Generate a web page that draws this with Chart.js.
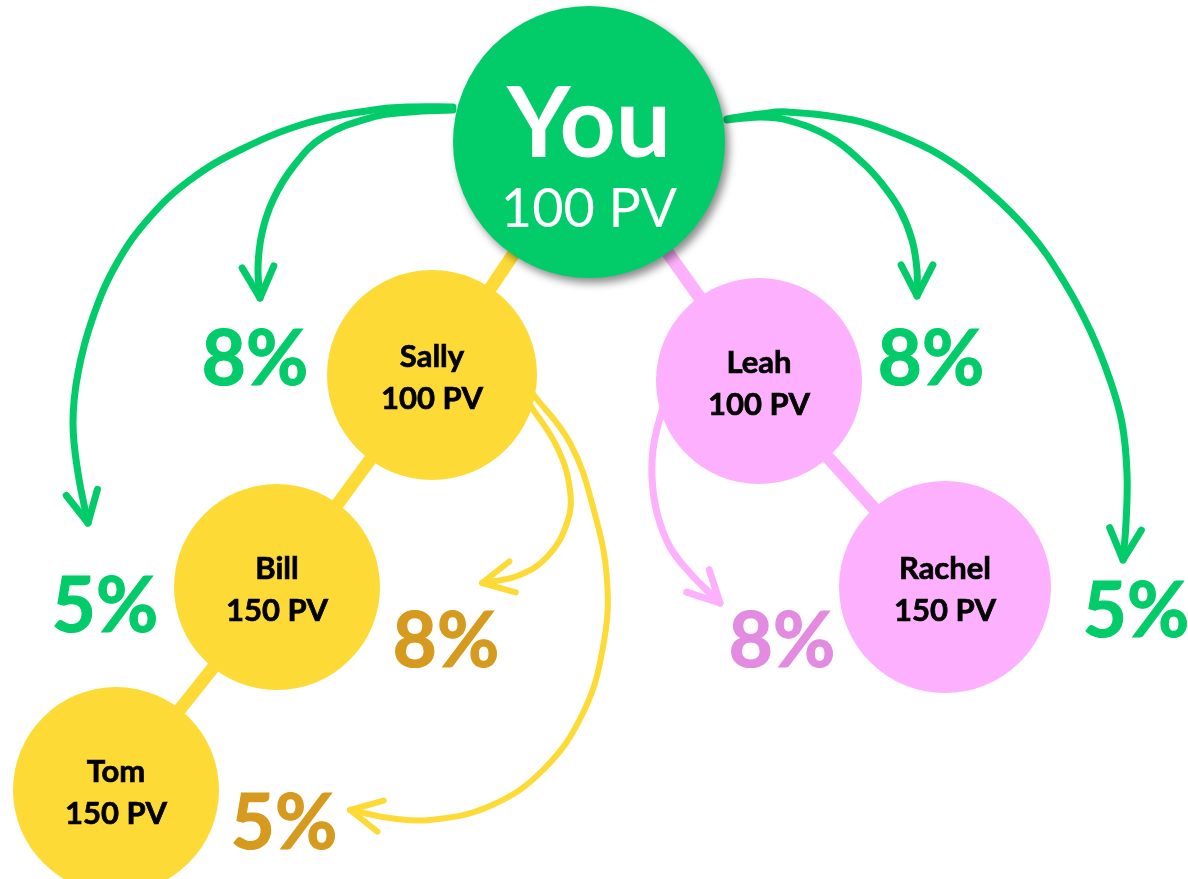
<!DOCTYPE html>
<html><head><meta charset="utf-8">
<script src="https://cdn.jsdelivr.net/npm/chart.js@4.4.1/dist/chart.umd.min.js"></script>
<style>html,body{margin:0;padding:0;background:#fff;overflow:hidden}#wrap{width:1188px;height:879px;position:relative}</style>
</head><body><div id="wrap"><canvas id="c"></canvas></div>
<script>
// ---------- data ----------
const memberNames  = ['You', 'Sally', 'Leah', 'Bill', 'Rachel', 'Tom'];
const memberPV     = [100, 100, 100, 150, 150, 150];
const memberParent = [-1, 0, 0, 1, 2, 3];
const memberX      = [589, 432, 759, 277, 945, 116];
const memberY      = [142, 375, 381, 587, 587, 790];

// commission labels: text, earner (index into members)
const bonusText   = ['8%', '5%', '8%', '5%', '8%', '5%', '8%'];
const bonusEarner = [0, 0, 0, 0, 1, 1, 2];
const bonusX      = [255, 105, 931, 1136, 446, 284, 782];
const bonusY      = [385, 632, 385, 637, 667, 849, 667];

// commission arrows (diagram coordinates), earner for each
const arrowYouLeftNear  = [[453,110],[410,112],[373,117],[323,137],[293,167],[273,200],[262,233],[258,267],[260,298]];
const arrowYouLeftFar   = [[453,107],[410,107],[373,110],[307,123],[240,150],[190,180],[150,217],[117,263],[93,317],[78,373],[73,423],[78,473],[88,523]];
const arrowYouRightNear = [[727,120],[760,117],[787,120],[830,137],[863,163],[883,185],[900,210],[912,240],[917,270],[917,296]];
const arrowYouRightFar  = [[727,119],[760,114],[787,112],[853,120],[893,133],[940,155],[987,190],[1030,233],[1063,280],[1090,330],[1110,380],[1122,423],[1127,473],[1126,523],[1123,560]];
const arrowSallyNear    = [[528,402],[557,447],[570,490],[567,523],[547,557],[517,576],[482,583]];
const arrowSallyFar     = [[533,394],[570,443],[593,507],[607,580],[603,647],[583,713],[543,770],[490,806],[430,820],[390,818],[350,810]];
const arrowLeahNear     = [[665,400],[654,443],[652,477],[657,513],[670,547],[690,573],[720,603]];
const arrowPaths   = [arrowYouLeftNear, arrowYouLeftFar, arrowYouRightNear, arrowYouRightFar, arrowSallyNear, arrowSallyFar, arrowLeahNear];
const arrowEarner  = [0, 0, 0, 0, 1, 1, 2];

// ---------- styles ----------
const GREEN = '#02CC6A', YELLOW = '#FDDA35', PINK = '#FDB0FD';
const nodeFill    = [GREEN, YELLOW, PINK, YELLOW, PINK, YELLOW];
const nodeRadius  = [136, 105, 103, 103, 106, 103];
const earnerLine  = [GREEN, YELLOW, PINK];
const earnerWidth = [7, 6, 7];
const earnerText  = [GREEN, '#D69A1E', '#E38BE0'];
const branchColor = [GREEN, YELLOW, PINK, YELLOW, PINK, YELLOW];

const datasets = [];
// tree connectors
memberParent.forEach((p, i) => {
  if (p < 0) return;
  datasets.push({
    type: 'scatter', showLine: true, order: 3,
    data: [{x: memberX[p], y: memberY[p]}, {x: memberX[i], y: memberY[i]}],
    borderColor: branchColor[i], borderWidth: 13, pointRadius: 0, clip: false
  });
});
// arrows
arrowPaths.forEach((path, k) => {
  const e = arrowEarner[k];
  datasets.push({
    type: 'scatter', showLine: true, order: 2, tension: 0.4,
    data: path.map(p => ({x: p[0], y: p[1]})),
    borderColor: earnerLine[e], borderWidth: earnerWidth[e], borderCapStyle: 'round', borderJoinStyle: 'round',
    pointRadius: 0, clip: false, arrowHead: {len: 35, spread: 27 * Math.PI / 180}
  });
});
// other members
const others = memberNames.map((_, i) => i).filter(i => i > 0);
datasets.push({
  type: 'scatter', order: 1, nodes: others,
  data: others.map(i => ({x: memberX[i], y: memberY[i]})),
  pointRadius: others.map(i => nodeRadius[i]), pointHoverRadius: others.map(i => nodeRadius[i]),
  backgroundColor: others.map(i => nodeFill[i]), borderWidth: 0, pointBorderWidth: 0, clip: false
});
// root member
datasets.push({
  type: 'scatter', order: 0, nodes: [0], shadow: true,
  data: [{x: memberX[0], y: memberY[0]}],
  pointRadius: nodeRadius[0], pointHoverRadius: nodeRadius[0],
  backgroundColor: nodeFill[0], borderWidth: 0, pointBorderWidth: 0, clip: false
});

const diagram = {
  id: 'diagram',
  beforeDatasetDraw(chart, args) {
    const ds = chart.data.datasets[args.index];
    if (ds.shadow) {
      const c = chart.ctx; c.save();
      c.shadowColor = 'rgba(0,0,0,0.45)'; c.shadowBlur = 8; c.shadowOffsetX = 4; c.shadowOffsetY = 5;
    }
  },
  afterDatasetDraw(chart, args) {
    const ds = chart.data.datasets[args.index];
    const ctx = chart.ctx;
    if (ds.shadow) ctx.restore();
    if (ds.arrowHead) {
      const pts = args.meta.data, n = pts.length;
      const tip = pts[n - 1], prev = pts[n - 2];
      const ang = Math.atan2(tip.y - prev.y, tip.x - prev.x);
      const L = ds.arrowHead.len, a = ds.arrowHead.spread;
      ctx.save();
      ctx.strokeStyle = ds.borderColor; ctx.lineWidth = ds.borderWidth;
      ctx.lineCap = 'round'; ctx.lineJoin = 'round';
      ctx.beginPath();
      ctx.moveTo(tip.x - L * Math.cos(ang - a), tip.y - L * Math.sin(ang - a));
      ctx.lineTo(tip.x, tip.y);
      ctx.lineTo(tip.x - L * Math.cos(ang + a), tip.y - L * Math.sin(ang + a));
      ctx.stroke();
      ctx.restore();
    }
    if (ds.nodes) {
      ctx.save();
      ctx.textAlign = 'center'; ctx.textBaseline = 'alphabetic';
      ds.nodes.forEach((m, j) => {
        const el = args.meta.data[j];
        if (m === 0) {
          ctx.fillStyle = '#ffffff';
          ctx.font = 'bold 98px Lato';
          ctx.fillText(memberNames[m], el.x, el.y + 15);
          ctx.font = '54px Lato';
          ctx.fillText(memberPV[m] + ' PV', el.x, el.y + 85);
        } else {
          ctx.fillStyle = '#000000'; ctx.strokeStyle = '#000000'; ctx.lineWidth = 0.7;
          ctx.font = 'bold 31px Lato';
          ctx.fillText(memberNames[m], el.x, el.y - 8);
          ctx.strokeText(memberNames[m], el.x, el.y - 8);
          ctx.fillText(memberPV[m] + ' PV', el.x, el.y + 34);
          ctx.strokeText(memberPV[m] + ' PV', el.x, el.y + 34);
        }
      });
      ctx.restore();
    }
  },
  afterDatasetsDraw(chart) {
    const ctx = chart.ctx, xs = chart.scales.x, ys = chart.scales.y;
    ctx.save();
    ctx.textAlign = 'center'; ctx.textBaseline = 'alphabetic';
    ctx.font = 'bold 76px Lato';
    ctx.lineWidth = 1.2;
    bonusText.forEach((t, k) => {
      const c = earnerText[bonusEarner[k]];
      ctx.fillStyle = c; ctx.strokeStyle = c;
      const px = xs.getPixelForValue(bonusX[k]), py = ys.getPixelForValue(bonusY[k]);
      ctx.fillText(t, px, py);
      ctx.strokeText(t, px, py);
    });
    ctx.restore();
  }
};

function draw() {
  new Chart(document.getElementById('c'), {
    type: 'scatter',
    data: {datasets},
    options: {
      responsive: true, maintainAspectRatio: false, animation: false, events: [],
      layout: {padding: 0, autoPadding: false},
      scales: {
        x: {type: 'linear', min: 0, max: 1188, display: false},
        y: {type: 'linear', min: 0, max: 879, reverse: true, display: false}
      },
      plugins: {legend: {display: false}, tooltip: {enabled: false}}
    },
    plugins: [diagram]
  });
}
Promise.all([
  document.fonts.load('bold 30px Lato'), document.fonts.load('30px Lato')
]).then(draw, draw);
</script>
</body></html>
